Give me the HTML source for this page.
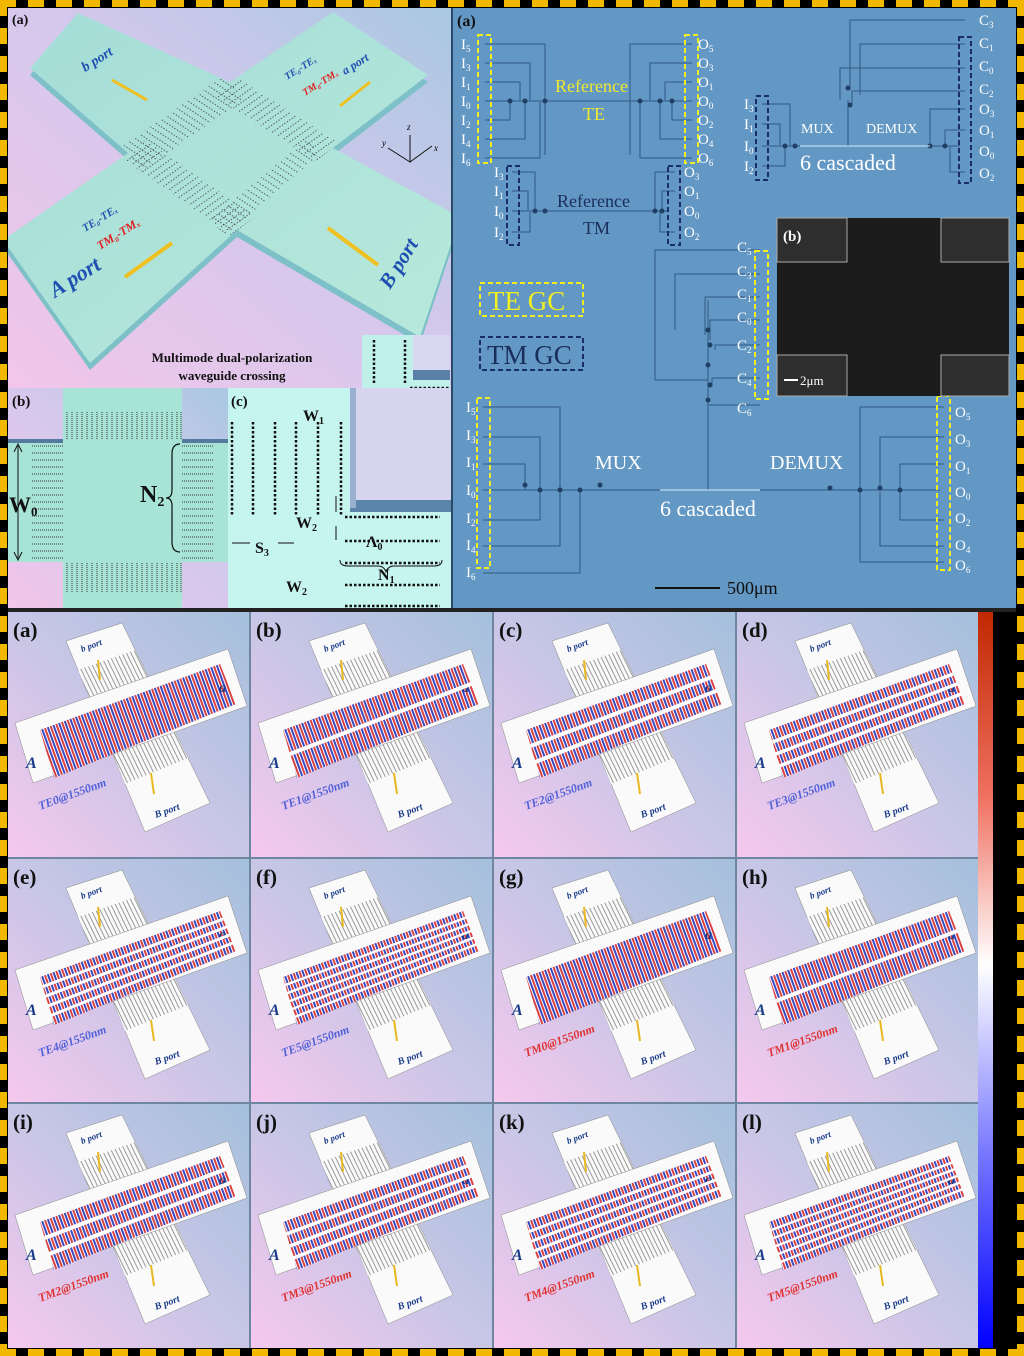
<!DOCTYPE html>
<html><head><meta charset="utf-8"><style>
html,body{margin:0;padding:0;background:#000;}
svg{display:block}
text{font-family:"Liberation Serif",serif}
</style></head><body>
<svg width="1024" height="1356" viewBox="0 0 1024 1356" xmlns="http://www.w3.org/2000/svg">
<defs>
<linearGradient id="pbg" x1="0" y1="1" x2="1" y2="0">
<stop offset="0" stop-color="#f6c8ee"/><stop offset="0.5" stop-color="#c8c6e6"/><stop offset="1" stop-color="#a4c0dc"/></linearGradient>
<linearGradient id="tbg" x1="0" y1="1" x2="1" y2="0">
<stop offset="0" stop-color="#f2c6ea"/><stop offset="0.55" stop-color="#d4c8ec"/><stop offset="1" stop-color="#a9c8e2"/></linearGradient>
<linearGradient id="slab" x1="0" y1="0" x2="1" y2="1">
<stop offset="0" stop-color="#a4dcd8"/><stop offset="1" stop-color="#b8eadb"/></linearGradient>
<linearGradient id="cbar" x1="0" y1="0" x2="0" y2="1">
<stop offset="0" stop-color="#c02800"/><stop offset="0.25" stop-color="#f07060"/><stop offset="0.48" stop-color="#ffffff"/><stop offset="0.75" stop-color="#7070ff"/><stop offset="1" stop-color="#0000ff"/></linearGradient>
<pattern id="fld" width="6" height="6" patternUnits="userSpaceOnUse" patternTransform="rotate(-20)">
<rect width="6" height="6" fill="#fff"/><rect x="0" width="2" height="6" fill="#d84040"/><rect x="3" width="2" height="6" fill="#3848c0"/></pattern>
<pattern id="gr" width="4" height="4" patternUnits="userSpaceOnUse" patternTransform="rotate(-26)">
<rect width="4" height="4" fill="#fafafa"/><rect width="1" height="4" fill="#999"/></pattern>
<pattern id="gtA" width="3" height="6" patternUnits="userSpaceOnUse" patternTransform="rotate(33)">
<rect width="1.2" height="0.9" fill="#334"/></pattern>
<pattern id="gtB" width="3" height="6" patternUnits="userSpaceOnUse" patternTransform="rotate(-35)">
<rect width="1.2" height="0.9" fill="#334"/></pattern>
<clipPath id="slabclip"><polygon points="30,68 78,13 230,82 333,12 428,75 333,148 460,217 420,337 237,230 90,363 3,240 128,153"/></clipPath>
<clipPath id="tlclip"><rect x="8" y="8" width="443" height="380"/></clipPath>
<g id="cross">
<polygon points="58,29 114,11 202,191 137,220" fill="#fafafa" stroke="#888" stroke-width="0.5"/>
<polygon points="70,58 127,38 140,65 81,85" fill="url(#gr)"/>
<polygon points="105,142 167,120 180,146 117,172" fill="url(#gr)"/>
<polygon points="7,111 220,37 239,94 25,171" fill="#fafafa" stroke="#888" stroke-width="0.5"/>
<polygon points="32,118 212,52 228,92 46,166" fill="url(#fld)"/>
<text x="74" y="40" font-size="9" font-style="italic" font-weight="bold" fill="#1a3a8a" transform="rotate(-20 74 40)">b port</text>
<line x1="92" y1="68" x2="90" y2="48" stroke="#e8b820" stroke-width="2"/>
<text x="148" y="206" font-size="10" font-style="italic" font-weight="bold" fill="#1a3a8a" transform="rotate(-20 148 206)">B port</text>
<line x1="146" y1="182" x2="143" y2="161" stroke="#e8b820" stroke-width="2"/>
<text x="18" y="156" font-size="16" font-style="italic" font-weight="bold" fill="#1a3a8a">A</text>
<text x="211" y="80" font-size="14" font-style="italic" font-weight="bold" fill="#1a3a8a">a</text>
</g>
</defs>

<rect width="1024" height="1356" fill="#000"/>
<g stroke="#f2b800" stroke-width="7" stroke-dasharray="16 12">
<line x1="0" y1="3.5" x2="1024" y2="3.5"/><line x1="0" y1="1352.5" x2="1024" y2="1352.5"/>
<line x1="3.5" y1="0" x2="3.5" y2="1356"/><line x1="1020.5" y1="0" x2="1020.5" y2="1356"/>
</g>

<!-- top-left panel -->
<rect x="8" y="8" width="443" height="380" fill="url(#tbg)"/>
<g clip-path="url(#tlclip)">
<polygon points="30,75 78,20 230,89 333,19 428,82 333,155 460,224 420,344 237,237 90,370 3,247 128,160" fill="#7ec0c8"/>
<polygon points="30,68 78,13 230,82 333,12 428,75 333,148 460,217 420,337 237,230 90,363 3,240 128,153" fill="url(#slab)"/>
<g clip-path="url(#slabclip)">
<polygon points="123,146 225,75 243,100 141,171" fill="url(#gtA)"/>
<polygon points="319,155 223,237 212,218 308,138" fill="url(#gtA)"/>
<polygon points="236,77 339,143 316,161 213,95" fill="url(#gtB)"/>
<polygon points="231,235 122,158 146,140 255,217" fill="url(#gtB)"/>
</g>
</g>
<text x="12" y="24" font-size="14" font-weight="bold" fill="#111">(a)</text>
<text x="85" y="72" font-size="14" font-weight="bold" font-style="italic" fill="#1f4fb0" transform="rotate(-32 85 72)">b port</text>
<text x="287" y="80" font-size="10" font-weight="bold" font-style="italic" fill="#1f4fb0" transform="rotate(-32 287 80)">TE₀-TEₓ</text>
<text x="305" y="96" font-size="10" font-weight="bold" font-style="italic" fill="#e02020" transform="rotate(-32 305 96)">TM₀-TMₓ</text>
<text x="345" y="75" font-size="12" font-weight="bold" font-style="italic" fill="#1f4fb0" transform="rotate(-32 345 75)">a port</text>
<text x="85" y="232" font-size="11" font-weight="bold" font-style="italic" fill="#1f4fb0" transform="rotate(-32 85 232)">TE₀-TEₓ</text>
<text x="100" y="250" font-size="12" font-weight="bold" font-style="italic" fill="#e02020" transform="rotate(-32 100 250)">TM₀-TMₓ</text>
<text x="55" y="298" font-size="22" font-weight="bold" font-style="italic" fill="#1f4fb0" transform="rotate(-32 55 298)">A port</text>
<text x="390" y="290" font-size="21" font-weight="bold" font-style="italic" fill="#1f4fb0" transform="rotate(-58 390 290)">B port</text>
<line x1="125" y1="277" x2="172" y2="243" stroke="#f0c020" stroke-width="4"/>
<line x1="378" y1="265" x2="328" y2="228" stroke="#f0c020" stroke-width="4"/>
<line x1="147" y1="100" x2="112" y2="80" stroke="#f0c020" stroke-width="3"/>
<line x1="340" y1="106" x2="370" y2="82" stroke="#f0c020" stroke-width="3"/>
<g stroke="#111" stroke-width="1" fill="none"><path d="M410 135 V162 L388 148 M410 162 L432 146"/></g>
<text x="407" y="130" font-size="9" font-style="italic">z</text><text x="382" y="146" font-size="9" font-style="italic">y</text><text x="434" y="151" font-size="9" font-style="italic">x</text>
<text x="232" y="362" font-size="13" font-weight="bold" text-anchor="middle" fill="#111">Multimode dual-polarization</text>
<text x="232" y="380" font-size="13" font-weight="bold" text-anchor="middle" fill="#111">waveguide crossing</text>
<rect x="362" y="335" width="88" height="92" fill="#c0f0ea"/>
<rect x="413" y="335" width="37" height="45" fill="#d8d8f0"/>
<rect x="413" y="370" width="37" height="10" fill="#5a80a8"/>
<g stroke="#111" stroke-width="2.5" stroke-dasharray="2.5 2">
<line x1="374" y1="340" x2="374" y2="383"/><line x1="405" y1="340" x2="405" y2="383"/><line x1="410" y1="388" x2="450" y2="388"/><line x1="408" y1="418" x2="450" y2="418"/></g>
<text x="405" y="405" font-size="13" font-weight="bold">S₂</text>

<!-- (b) -->
<rect x="8" y="388" width="220" height="222" fill="url(#tbg)"/>
<rect x="63" y="388" width="119" height="222" fill="#a8e4d6"/>
<rect x="8" y="442" width="220" height="120" fill="#a8e4d6"/>
<rect x="8" y="439" width="55" height="4" fill="#557aa0"/><rect x="182" y="439" width="46" height="4" fill="#557aa0"/>
<g stroke="#333" stroke-width="1" stroke-dasharray="1 1">
<path d="M67 412V440M72 412V440M77 412V440M82 412V440M87 412V440M92 412V440M97 412V440M102 412V440M107 412V440M112 412V440M117 412V440M122 412V440M127 412V440M132 412V440M137 412V440M142 412V440M147 412V440M152 412V440M157 412V440M162 412V440M167 412V440M172 412V440M177 412V440M181 412V440"/>
<path d="M67 563V592M72 563V592M77 563V592M82 563V592M87 563V592M92 563V592M97 563V592M102 563V592M107 563V592M112 563V592M117 563V592M122 563V592M127 563V592M132 563V592M137 563V592M142 563V592M147 563V592M152 563V592M157 563V592M162 563V592M167 563V592M172 563V592M177 563V592M181 563V592"/>
<path d="M32 446H64M32 453H64M32 460H64M32 467H64M32 474H64M32 481H64M32 488H64M32 495H64M32 502H64M32 509H64M32 516H64M32 523H64M32 530H64M32 537H64M32 544H64M32 551H64M32 558H64"/>
<path d="M182 446H214M182 453H214M182 460H214M182 467H214M182 474H214M182 481H214M182 488H214M182 495H214M182 502H214M182 509H214M182 516H214M182 523H214M182 530H214M182 537H214M182 544H214M182 551H214M182 558H214"/>
</g>
<text x="12" y="406" font-size="15" font-weight="bold" fill="#111">(b)</text>
<line x1="18" y1="446" x2="18" y2="558" stroke="#111" stroke-width="1"/>
<path d="M14 452 L18 444 L22 452 M14 552 L18 560 L22 552" fill="none" stroke="#111"/>
<text x="9" y="512" font-size="22" font-weight="bold" fill="#111">W<tspan font-size="13" dy="4">0</tspan></text>
<path d="M180 444 q-8 0 -8 10 v36 q0 8 -6 8 q6 0 6 8 v36 q0 10 8 10" fill="none" stroke="#111" stroke-width="1.2"/>
<text x="140" y="502" font-size="24" font-weight="bold" fill="#111">N<tspan font-size="14" dy="4">2</tspan></text>

<!-- (c) -->
<rect x="228" y="388" width="223" height="222" fill="#c6f4ee"/>
<rect x="350" y="388" width="101" height="122" fill="#d6d4ee"/>
<rect x="350" y="500" width="101" height="12" fill="#5a84aa"/>
<rect x="350" y="388" width="6" height="120" fill="#9ab0d0"/>
<g stroke="#111" stroke-width="2.5" stroke-dasharray="2.5 2">
<line x1="232" y1="422" x2="232" y2="515"/><line x1="253" y1="422" x2="253" y2="515"/><line x1="275" y1="422" x2="275" y2="515"/>
<line x1="296" y1="422" x2="296" y2="515"/><line x1="318" y1="422" x2="318" y2="515"/><line x1="341" y1="422" x2="341" y2="515"/>
<line x1="345" y1="517" x2="440" y2="517"/><line x1="345" y1="541" x2="440" y2="541"/><line x1="345" y1="563" x2="440" y2="563"/><line x1="345" y1="585" x2="440" y2="585"/><line x1="345" y1="606" x2="440" y2="606"/>
</g>
<text x="231" y="406" font-size="15" font-weight="bold" fill="#111">(c)</text>
<text x="303" y="421" font-size="16" font-weight="bold" fill="#111">W<tspan font-size="10" dy="3">1</tspan></text>
<text x="255" y="553" font-size="16" font-weight="bold" fill="#111">S<tspan font-size="10" dy="3">3</tspan></text>
<text x="296" y="528" font-size="16" font-weight="bold" fill="#111">W<tspan font-size="10" dy="3">2</tspan></text>
<text x="286" y="592" font-size="16" font-weight="bold" fill="#111">W<tspan font-size="10" dy="3">2</tspan></text>
<text x="366" y="547" font-size="16" font-weight="bold" fill="#111">Λ<tspan font-size="10" dy="3">0</tspan></text>
<text x="378" y="580" font-size="16" font-weight="bold" fill="#111">N<tspan font-size="10" dy="3">1</tspan></text>
<path d="M340 560 q0 6 8 6 h30 q6 0 8 6 q2 -6 8 -6 h40 q8 0 8 -6" fill="none" stroke="#111"/>
<g stroke="#111"><line x1="232" y1="543" x2="250" y2="543"/><line x1="278" y1="543" x2="294" y2="543"/><line x1="336" y1="512" x2="336" y2="496"/><line x1="336" y1="526" x2="336" y2="540"/></g>

<!-- top right blue panel -->
<rect x="451" y="8" width="565" height="600" fill="#6397c4"/>
<rect x="451" y="8" width="2" height="600" fill="#2a4a6a"/>
<g fill="none" stroke="#2f5a86" stroke-width="1">
<path d="M485 44 H545 V155 M485 63 H530 V100 M485 82 H520 V100 M485 101 H600 M485 120 H510 V102 M485 139 H525 V102 M485 158 H540 V102"/>
<path d="M600 101 H692 M692 44 H630 V155 M692 63 H650 V100 M692 82 H665 V100 M692 120 H672 V102 M692 139 H660 V102 M692 158 H640 V102"/>
<path d="M762 104 H790 V145 M762 124 H780 V145 M762 146 H960 M762 166 H785 V147 M965 20 H850 V90 M965 44 H860 V95 M965 68 H840 V100 M965 91 H852 V105 M965 109 H930 V145 M965 130 H945 V145 M965 172 H950 V147 M848 100 V146"/>
<path d="M512 172 H535 V210 M512 191 H528 V210 M512 211 H668 M512 232 H530 V212 M675 172 H655 V210 M675 191 H662 V210 M675 232 H660 V212"/>
<path d="M760 250 H655 V380 H708 M760 274 H675 V330 M760 297 H705 V335 M760 320 H710 V340 M760 345 H715 V350 M760 378 H712 V385 M760 405 H708 V400 M708 300 V490"/>
<path d="M483 407 H560 V500 M483 437 H540 V490 M483 464 H525 V490 M483 490 H940 M483 520 H540 V492 M483 546 H560 V492 M483 573 H580 V492"/>
<path d="M944 407 H860 V500 M944 437 H880 V490 M944 464 H900 V490 M944 520 H900 V492 M944 546 H880 V492 M944 562 H860 V492"/>
</g>
<g fill="#1f3f64">
<circle cx="510" cy="101" r="2.5"/><circle cx="525" cy="101" r="2.5"/><circle cx="545" cy="101" r="2.5"/><circle cx="640" cy="101" r="2.5"/><circle cx="660" cy="101" r="2.5"/><circle cx="672" cy="101" r="2.5"/>
<circle cx="785" cy="146" r="2.5"/><circle cx="795" cy="146" r="2.5"/><circle cx="930" cy="146" r="2.5"/><circle cx="945" cy="146" r="2.5"/><circle cx="848" cy="88" r="2.5"/><circle cx="850" cy="105" r="2.5"/>
<circle cx="535" cy="211" r="2.5"/><circle cx="545" cy="211" r="2.5"/><circle cx="655" cy="211" r="2.5"/><circle cx="662" cy="211" r="2.5"/>
<circle cx="708" cy="330" r="2.5"/><circle cx="710" cy="345" r="2.5"/><circle cx="708" cy="365" r="2.5"/><circle cx="710" cy="385" r="2.5"/><circle cx="708" cy="400" r="2.5"/>
<circle cx="540" cy="490" r="2.5"/><circle cx="560" cy="490" r="2.5"/><circle cx="580" cy="490" r="2.5"/><circle cx="600" cy="485" r="2.5"/><circle cx="525" cy="485" r="2.5"/>
<circle cx="860" cy="490" r="2.5"/><circle cx="880" cy="488" r="2.5"/><circle cx="900" cy="490" r="2.5"/><circle cx="830" cy="488" r="2.5"/>
</g>
<line x1="660" y1="490" x2="760" y2="490" stroke="#d8e8f8" stroke-width="1"/>
<line x1="800" y1="146" x2="930" y2="146" stroke="#d8e8f8" stroke-width="1"/>
<g font-size="15" fill="#fff">
<text x="457" y="26" font-size="16" font-weight="bold" fill="#111">(a)</text>
<text x="461" y="49">I<tspan font-size="9" dy="3">5</tspan></text><text x="461" y="68">I<tspan font-size="9" dy="3">3</tspan></text><text x="461" y="87">I<tspan font-size="9" dy="3">1</tspan></text><text x="461" y="106">I<tspan font-size="9" dy="3">0</tspan></text><text x="461" y="125">I<tspan font-size="9" dy="3">2</tspan></text><text x="461" y="144">I<tspan font-size="9" dy="3">4</tspan></text><text x="461" y="163">I<tspan font-size="9" dy="3">6</tspan></text>
<text x="698" y="49">O<tspan font-size="9" dy="3">5</tspan></text><text x="698" y="68">O<tspan font-size="9" dy="3">3</tspan></text><text x="698" y="87">O<tspan font-size="9" dy="3">1</tspan></text><text x="698" y="106">O<tspan font-size="9" dy="3">0</tspan></text><text x="698" y="125">O<tspan font-size="9" dy="3">2</tspan></text><text x="698" y="144">O<tspan font-size="9" dy="3">4</tspan></text><text x="698" y="163">O<tspan font-size="9" dy="3">6</tspan></text>
<text x="979" y="25">C<tspan font-size="9" dy="3">3</tspan></text><text x="979" y="48">C<tspan font-size="9" dy="3">1</tspan></text><text x="979" y="71">C<tspan font-size="9" dy="3">0</tspan></text><text x="979" y="94">C<tspan font-size="9" dy="3">2</tspan></text><text x="979" y="114">O<tspan font-size="9" dy="3">3</tspan></text><text x="979" y="135">O<tspan font-size="9" dy="3">1</tspan></text><text x="979" y="156">O<tspan font-size="9" dy="3">0</tspan></text><text x="979" y="178">O<tspan font-size="9" dy="3">2</tspan></text>
<text x="744" y="109">I<tspan font-size="9" dy="3">3</tspan></text><text x="744" y="129">I<tspan font-size="9" dy="3">1</tspan></text><text x="744" y="151">I<tspan font-size="9" dy="3">0</tspan></text><text x="744" y="171">I<tspan font-size="9" dy="3">2</tspan></text>
<text x="494" y="177">I<tspan font-size="9" dy="3">3</tspan></text><text x="494" y="196">I<tspan font-size="9" dy="3">1</tspan></text><text x="494" y="216">I<tspan font-size="9" dy="3">0</tspan></text><text x="494" y="237">I<tspan font-size="9" dy="3">2</tspan></text>
<text x="684" y="177">O<tspan font-size="9" dy="3">3</tspan></text><text x="684" y="196">O<tspan font-size="9" dy="3">1</tspan></text><text x="684" y="216">O<tspan font-size="9" dy="3">0</tspan></text><text x="684" y="237">O<tspan font-size="9" dy="3">2</tspan></text>
<text x="737" y="252">C<tspan font-size="9" dy="3">5</tspan></text><text x="737" y="276">C<tspan font-size="9" dy="3">3</tspan></text><text x="737" y="299">C<tspan font-size="9" dy="3">1</tspan></text><text x="737" y="322">C<tspan font-size="9" dy="3">0</tspan></text><text x="737" y="350">C<tspan font-size="9" dy="3">2</tspan></text><text x="737" y="383">C<tspan font-size="9" dy="3">4</tspan></text><text x="737" y="413">C<tspan font-size="9" dy="3">6</tspan></text>
<text x="466" y="412">I<tspan font-size="9" dy="3">5</tspan></text><text x="466" y="440">I<tspan font-size="9" dy="3">3</tspan></text><text x="466" y="467">I<tspan font-size="9" dy="3">1</tspan></text><text x="466" y="495">I<tspan font-size="9" dy="3">0</tspan></text><text x="466" y="523">I<tspan font-size="9" dy="3">2</tspan></text><text x="466" y="550">I<tspan font-size="9" dy="3">4</tspan></text><text x="466" y="577">I<tspan font-size="9" dy="3">6</tspan></text>
<text x="955" y="417">O<tspan font-size="9" dy="3">5</tspan></text><text x="955" y="444">O<tspan font-size="9" dy="3">3</tspan></text><text x="955" y="471">O<tspan font-size="9" dy="3">1</tspan></text><text x="955" y="497">O<tspan font-size="9" dy="3">0</tspan></text><text x="955" y="523">O<tspan font-size="9" dy="3">2</tspan></text><text x="955" y="550">O<tspan font-size="9" dy="3">4</tspan></text><text x="955" y="570">O<tspan font-size="9" dy="3">6</tspan></text>
<text x="801" y="133" font-size="14">MUX</text><text x="866" y="133" font-size="14">DEMUX</text>
<text x="800" y="170" font-size="22">6 cascaded</text>
<text x="595" y="469" font-size="20">MUX</text><text x="770" y="469" font-size="20">DEMUX</text>
<text x="660" y="516" font-size="22">6 cascaded</text>
<text x="727" y="594" font-size="18" fill="#111">500μm</text>
</g>
<line x1="655" y1="588" x2="720" y2="588" stroke="#111" stroke-width="2"/>
<text x="555" y="92" font-size="18" fill="#f0e830">Reference</text><text x="583" y="120" font-size="18" fill="#f0e830">TE</text>
<text x="557" y="207" font-size="18" fill="#1a2e5a">Reference</text><text x="583" y="234" font-size="18" fill="#1a2e5a">TM</text>
<g fill="none" stroke-width="2" stroke-dasharray="5 3">
<rect x="478" y="35" width="13" height="128" stroke="#f0f020"/><rect x="685" y="35" width="13" height="128" stroke="#f0f020"/>
<rect x="959" y="37" width="12" height="146" stroke="#1a2e6a"/><rect x="756" y="96" width="12" height="84" stroke="#1a2e6a"/>
<rect x="507" y="166" width="12" height="79" stroke="#1a2e6a"/><rect x="668" y="166" width="12" height="79" stroke="#1a2e6a"/>
<rect x="755" y="251" width="13" height="148" stroke="#f0f020"/>
<rect x="477" y="398" width="13" height="170" stroke="#f0f020"/><rect x="937" y="396" width="13" height="174" stroke="#f0f020"/>
<rect x="480" y="283" width="103" height="33" stroke="#f0f020"/><rect x="480" y="337" width="103" height="33" stroke="#1a2e6a"/>
</g>
<text x="488" y="310" font-size="27" fill="#f0f020">TE GC</text>
<text x="487" y="364" font-size="27" fill="#1a2e5a">TM GC</text>
<!-- SEM -->
<rect x="777" y="218" width="232" height="178" fill="#2a2a2a"/>
<rect x="847" y="218" width="94" height="178" fill="#1c1c1c"/>
<rect x="777" y="262" width="232" height="93" fill="#1c1c1c"/>
<rect x="777" y="218" width="70" height="44" fill="#2e2e2e" stroke="#aaa" stroke-width="1"/>
<rect x="941" y="218" width="68" height="44" fill="#2e2e2e" stroke="#aaa" stroke-width="1"/>
<rect x="777" y="355" width="70" height="41" fill="#2e2e2e" stroke="#aaa" stroke-width="1"/>
<rect x="941" y="355" width="68" height="41" fill="#2e2e2e" stroke="#aaa" stroke-width="1"/>
<text x="783" y="241" font-size="15" font-weight="bold" fill="#fff">(b)</text>
<line x1="784" y1="380" x2="798" y2="380" stroke="#fff" stroke-width="2"/>
<text x="800" y="385" font-size="13" fill="#fff">2μm</text>

<rect x="8" y="608" width="1008" height="4" fill="#222"/>

<!-- bottom panels -->
<rect x="8" y="612" width="970" height="736" fill="#6f86a0"/>
<g>
<rect x="8" y="612" width="241" height="245" fill="url(#pbg)"/><rect x="251" y="612" width="241" height="245" fill="url(#pbg)"/><rect x="494" y="612" width="241" height="245" fill="url(#pbg)"/><rect x="737" y="612" width="241" height="245" fill="url(#pbg)"/>
<rect x="8" y="859" width="241" height="243" fill="url(#pbg)"/><rect x="251" y="859" width="241" height="243" fill="url(#pbg)"/><rect x="494" y="859" width="241" height="243" fill="url(#pbg)"/><rect x="737" y="859" width="241" height="243" fill="url(#pbg)"/>
<rect x="8" y="1104" width="241" height="244" fill="url(#pbg)"/><rect x="251" y="1104" width="241" height="244" fill="url(#pbg)"/><rect x="494" y="1104" width="241" height="244" fill="url(#pbg)"/><rect x="737" y="1104" width="241" height="244" fill="url(#pbg)"/>
</g>

<g transform="translate(8,612)"><use href="#cross"/>
<text x="5" y="25" font-size="21" font-weight="bold" fill="#111">(a)</text>
<text x="32" y="198" font-size="12" font-weight="bold" font-style="italic" fill="#5060d8" transform="rotate(-20 32 198)">TE0@1550nm</text></g>

<g transform="translate(251,612)"><use href="#cross"/>
<line x1="39" y1="142" x2="220" y2="72" stroke="#fff" stroke-width="4"/>
<text x="5" y="25" font-size="21" font-weight="bold" fill="#111">(b)</text>
<text x="32" y="198" font-size="12" font-weight="bold" font-style="italic" fill="#5060d8" transform="rotate(-20 32 198)">TE1@1550nm</text></g>

<g transform="translate(494,612)"><use href="#cross"/>
<g stroke="#fff" stroke-width="4"><line x1="36.7" y1="134" x2="217.3" y2="65.3"/><line x1="41.3" y1="150" x2="222.7" y2="78.7"/></g>
<text x="5" y="25" font-size="21" font-weight="bold" fill="#111">(c)</text>
<text x="32" y="198" font-size="12" font-weight="bold" font-style="italic" fill="#5060d8" transform="rotate(-20 32 198)">TE2@1550nm</text></g>

<g transform="translate(737,612)"><use href="#cross"/>
<g stroke="#fff" stroke-width="3.5"><line x1="35.5" y1="130" x2="216" y2="62"/><line x1="39" y1="142" x2="220" y2="72"/><line x1="42.5" y1="154" x2="224" y2="82"/></g>
<text x="5" y="25" font-size="21" font-weight="bold" fill="#111">(d)</text>
<text x="32" y="198" font-size="12" font-weight="bold" font-style="italic" fill="#5060d8" transform="rotate(-20 32 198)">TE3@1550nm</text></g>

<g transform="translate(8,859)"><use href="#cross"/>
<g stroke="#fff" stroke-width="3"><line x1="34.8" y1="127.6" x2="215.2" y2="60"/><line x1="37.6" y1="137.2" x2="218.4" y2="68"/><line x1="40.4" y1="146.8" x2="221.6" y2="76"/><line x1="43.2" y1="156.4" x2="224.8" y2="84"/></g>
<text x="5" y="25" font-size="21" font-weight="bold" fill="#111">(e)</text>
<text x="32" y="198" font-size="12" font-weight="bold" font-style="italic" fill="#5060d8" transform="rotate(-20 32 198)">TE4@1550nm</text></g>

<g transform="translate(251,859)"><use href="#cross"/>
<g stroke="#fff" stroke-width="2.5"><line x1="34.3" y1="126" x2="214.7" y2="58.7"/><line x1="36.7" y1="134" x2="217.3" y2="65.3"/><line x1="39" y1="142" x2="220" y2="72"/><line x1="41.3" y1="150" x2="222.7" y2="78.7"/><line x1="43.7" y1="158" x2="225.3" y2="85.3"/></g>
<text x="5" y="25" font-size="21" font-weight="bold" fill="#111">(f)</text>
<text x="32" y="198" font-size="12" font-weight="bold" font-style="italic" fill="#5060d8" transform="rotate(-20 32 198)">TE5@1550nm</text></g>

<g transform="translate(494,859)"><use href="#cross"/>
<text x="5" y="25" font-size="21" font-weight="bold" fill="#111">(g)</text>
<text x="32" y="198" font-size="12" font-weight="bold" font-style="italic" fill="#e03030" transform="rotate(-20 32 198)">TM0@1550nm</text></g>

<g transform="translate(737,859)"><use href="#cross"/>
<line x1="39" y1="142" x2="220" y2="72" stroke="#fff" stroke-width="4"/>
<text x="5" y="25" font-size="21" font-weight="bold" fill="#111">(h)</text>
<text x="32" y="198" font-size="12" font-weight="bold" font-style="italic" fill="#e03030" transform="rotate(-20 32 198)">TM1@1550nm</text></g>

<g transform="translate(8,1104)"><use href="#cross"/>
<g stroke="#fff" stroke-width="4"><line x1="36.7" y1="134" x2="217.3" y2="65.3"/><line x1="41.3" y1="150" x2="222.7" y2="78.7"/></g>
<text x="5" y="25" font-size="21" font-weight="bold" fill="#111">(i)</text>
<text x="32" y="198" font-size="12" font-weight="bold" font-style="italic" fill="#e03030" transform="rotate(-20 32 198)">TM2@1550nm</text></g>

<g transform="translate(251,1104)"><use href="#cross"/>
<g stroke="#fff" stroke-width="3.5"><line x1="35.5" y1="130" x2="216" y2="62"/><line x1="39" y1="142" x2="220" y2="72"/><line x1="42.5" y1="154" x2="224" y2="82"/></g>
<text x="5" y="25" font-size="21" font-weight="bold" fill="#111">(j)</text>
<text x="32" y="198" font-size="12" font-weight="bold" font-style="italic" fill="#e03030" transform="rotate(-20 32 198)">TM3@1550nm</text></g>

<g transform="translate(494,1104)"><use href="#cross"/>
<g stroke="#fff" stroke-width="3"><line x1="34.8" y1="127.6" x2="215.2" y2="60"/><line x1="37.6" y1="137.2" x2="218.4" y2="68"/><line x1="40.4" y1="146.8" x2="221.6" y2="76"/><line x1="43.2" y1="156.4" x2="224.8" y2="84"/></g>
<text x="5" y="25" font-size="21" font-weight="bold" fill="#111">(k)</text>
<text x="32" y="198" font-size="12" font-weight="bold" font-style="italic" fill="#e03030" transform="rotate(-20 32 198)">TM4@1550nm</text></g>

<g transform="translate(737,1104)"><use href="#cross"/>
<g stroke="#fff" stroke-width="2.5"><line x1="34.3" y1="126" x2="214.7" y2="58.7"/><line x1="36.7" y1="134" x2="217.3" y2="65.3"/><line x1="39" y1="142" x2="220" y2="72"/><line x1="41.3" y1="150" x2="222.7" y2="78.7"/><line x1="43.7" y1="158" x2="225.3" y2="85.3"/></g>
<text x="5" y="25" font-size="21" font-weight="bold" fill="#111">(l)</text>
<text x="32" y="198" font-size="12" font-weight="bold" font-style="italic" fill="#e03030" transform="rotate(-20 32 198)">TM5@1550nm</text></g>

<rect x="978" y="612" width="15" height="736" fill="url(#cbar)"/>
<rect x="993" y="612" width="23" height="736" fill="#000"/>
</svg>
</body></html>
